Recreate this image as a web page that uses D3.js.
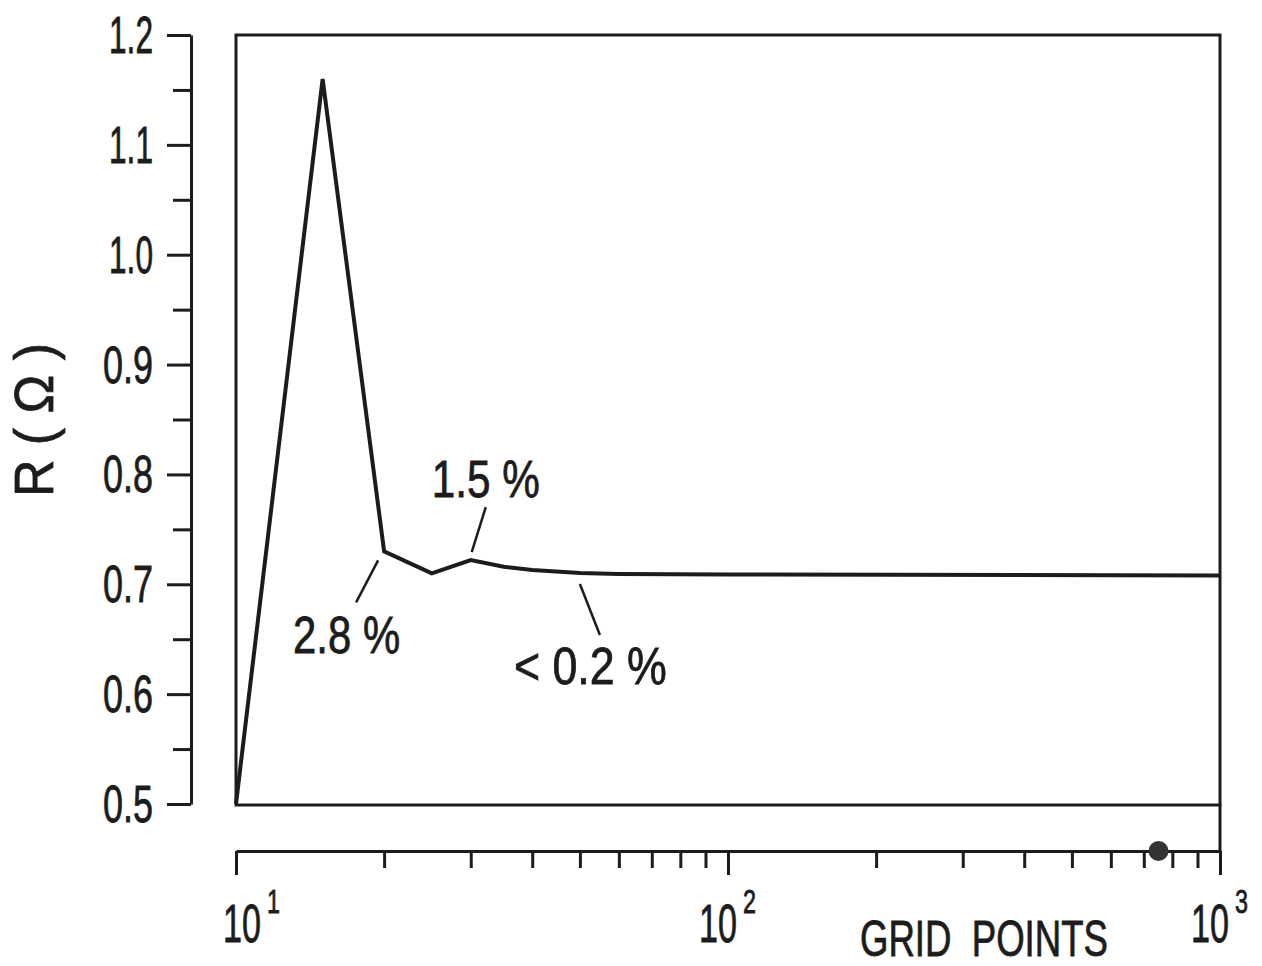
<!DOCTYPE html>
<html>
  <head>
    <meta charset="utf-8" />
    <title>R vs grid points</title>
    <style>
      html,
      body {
        margin: 0;
        padding: 0;
        background-color: white;
      }

      svg {
        display: block;
      }

      text {
        font-family: "Liberation Sans", Arial, sans-serif;
        fill: #1c1c1c;
        stroke: #1c1c1c;
        stroke-width: 0.8px;
        white-space: pre;
      }

      .axis path,
      .axis line {
        stroke: #1c1c1c;
        stroke-width: 3px;
      }
    </style>
  </head>

  <body>
    <script src="https://d3js.org/d3.v7.min.js"></script>
    <script>
      // curve
      var gridPoints = [10, 15, 20, 25, 30, 35, 40, 50, 60, 100, 1000];
      var resistance = [0.5, 1.16, 0.73, 0.71, 0.722, 0.716, 0.713, 0.7103, 0.7094, 0.709, 0.708];

      var yMajor = [0.5, 0.6, 0.7, 0.8, 0.9, 1.0, 1.1, 1.2];
      var yMinor = [0.55, 0.65, 0.75, 0.85, 0.95, 1.05, 1.15];
      var yLabels = ["0.5", "0.6", "0.7", "0.8", "0.9", "1.0", "1.1", "1.2"];

      var xMajor = [10, 100, 1000];
      var xMinor = [20, 30, 40, 50, 60, 70, 80, 90, 200, 300, 400, 500, 600, 700, 800, 900];
      var xExponents = ["1", "2", "3"];

      var noteText = ["2.8 %", "1.5 %", "< 0.2 %"];
      var noteAt = [20, 30, 50];

      // dark spot sitting on the x axis in the scan
      var spotAt = [750];

      var w = 1262;
      var h = 966;
      var ink = "#1c1c1c";

      var svg = d3
        .select("body")
        .append("svg")
        .attr("width", w)
        .attr("height", h);

      var x = d3.scaleLog().domain([10, 1000]).range([236, 1220]);
      var y = d3.scaleLinear().domain([0.5, 1.2]).range([804, 35]);

      var axisY = 851;

      // squeeze text horizontally to a given width (narrow lettering of the original)
      function narrow(str, px, py, size, len, rot) {
        var t = svg.append("text")
          .attr("font-size", size)
          .text(str);
        var k = len / t.node().getComputedTextLength();
        t.attr("transform", "translate(" + px + "," + py + ")" +
          (rot ? " rotate(" + rot + ")" : "") + " scale(" + k + ",1)");
        return t;
      }

      // plot frame
      svg.append("rect")
        .attr("x", x(10))
        .attr("y", y(1.2))
        .attr("width", x(1000) - x(10))
        .attr("height", y(0.5) - y(1.2) + 1)
        .attr("fill", "none")
        .attr("stroke", ink)
        .attr("stroke-width", 3);

      // right edge runs on down to the x axis
      svg.append("line")
        .attr("x1", x(1000)).attr("x2", x(1000))
        .attr("y1", y(0.5)).attr("y2", axisY)
        .attr("stroke", ink)
        .attr("stroke-width", 3);

      // y axis
      svg.append("g")
        .attr("class", "axis")
        .attr("transform", "translate(191,0)")
        .call(d3.axisLeft(y).tickValues(yMajor).tickSize(24).tickSizeOuter(0).tickFormat(""));

      svg.append("g")
        .attr("class", "axis")
        .attr("transform", "translate(191,0)")
        .call(d3.axisLeft(y).tickValues(yMinor).tickSize(18).tickSizeOuter(0).tickFormat(""))
        .select(".domain").remove();

      yMajor.forEach(function (d, i) {
        var len = yLabels[i].charAt(0) === "1" ? 44 : 50;
        narrow(yLabels[i], 153 - len, y(d) + 18, 52, len);
      });

      // x axis
      svg.append("g")
        .attr("class", "axis")
        .attr("transform", "translate(0," + axisY + ")")
        .call(d3.axisBottom(x).tickValues(xMajor).tickSize(24).tickSizeOuter(0).tickFormat(""));

      svg.append("g")
        .attr("class", "axis")
        .attr("transform", "translate(0," + axisY + ")")
        .call(d3.axisBottom(x).tickValues(xMinor).tickSize(17).tickSizeOuter(0).tickFormat(""))
        .select(".domain").remove();

      // decade labels: "10" with the exponent raised
      xMajor.forEach(function (d, i) {
        var cx = Math.max(x(d), x(10) + 16);
        var left = cx - 29;
        narrow("10", left, 942, 54, 38);
        narrow(xExponents[i], left + 44, 913, 34, 13);
      });

      narrow("GRID  POINTS", 860, 956, 50, 248);

      // y title
      narrow("R ( \u03A9 )", 53, 497, 55, 154, -90);

      // curve
      var line = d3.line()
        .x(function (d) { return x(d); })
        .y(function (d, i) { return y(resistance[i]); });

      svg.append("path")
        .datum(gridPoints)
        .attr("d", line)
        .attr("fill", "none")
        .attr("stroke", ink)
        .attr("stroke-width", 4)
        .attr("stroke-linejoin", "miter");

      // annotations, placed relative to the point they describe
      var noteLayout = [
        { l1: [-6, 9], l2: [-28, 51], t: [-91, 102], len: 107 },
        { l1: [1, -8], l2: [15, -53], t: [-39, -63], len: 108 },
        { l1: [0, 11], l2: [20, 62], t: [-66, 111], len: 153 }
      ];

      noteText.forEach(function (txt, i) {
        var px = x(noteAt[i]);
        var py = y(resistance[gridPoints.indexOf(noteAt[i])]);
        var L = noteLayout[i];
        svg.append("line")
          .attr("x1", px + L.l1[0]).attr("y1", py + L.l1[1])
          .attr("x2", px + L.l2[0]).attr("y2", py + L.l2[1])
          .attr("stroke", ink)
          .attr("stroke-width", 2.5);
        narrow(txt, px + L.t[0], py + L.t[1], 52, L.len);
      });

      svg.selectAll(".spot")
        .data(spotAt)
        .enter()
        .append("circle")
        .attr("class", "spot")
        .attr("cx", function (d) { return x(d); })
        .attr("cy", axisY)
        .attr("r", 10)
        .attr("fill", "#333");
    </script>
  </body>
</html>
